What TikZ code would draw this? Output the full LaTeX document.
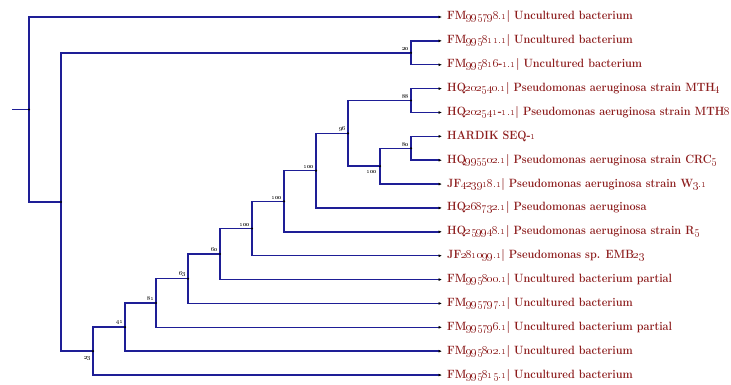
\documentclass[tikz,border=0pt]{standalone}
\usetikzlibrary{arrows.meta}
\definecolor{BranchBlue}{HTML}{1E1E96}
\definecolor{TaxonRed}{HTML}{8C1C1C}
\newcommand{\os}[1]{\oldstylenums{#1}}

\begin{document}
\begin{tikzpicture}[
  x=1pt, y=-1pt,
  % --- tree styles ---
  branch/.style={BranchBlue, line width=1.5pt},
  tip/.style={branch, -{Latex[black,length=3.5pt,width=3pt]}},
  knot/.style={circle, fill=black, inner sep=0pt, minimum size=2.4pt},
  taxon/.style={anchor=west, inner sep=0pt, text=TaxonRed, font=\fontsize{12}{14}\selectfont\bfseries},
  boot/.style={font=\fontsize{6.5}{7}\selectfont, inner sep=0.4pt},
]
\useasboundingbox (0,0) rectangle (731,385);

% =================== LEAVES ===================
\foreach \i/\lab in {
  1/{FM\os{995798.1}| Uncultured bacterium},
  2/{FM\os{995811.1}| Uncultured bacterium},
  3/{FM\os{995816}-\os{1.1}| Uncultured bacterium},
  4/{HQ\os{202540.1}| Pseudomonas aeruginosa strain MTH\os{4}},
  5/{HQ\os{202541}-\os{1.1}| Pseudomonas aeruginosa strain MTH\os{8}},
  6/{HARDIK SEQ-\os{1}},
  7/{HQ\os{995502.1}| Pseudomonas aeruginosa strain CRC\os{5}},
  8/{JF\os{423918.1}| Pseudomonas aeruginosa strain W\os{3.1}},
  9/{HQ\os{268732.1}| Pseudomonas aeruginosa},
  10/{HQ\os{259948.1}| Pseudomonas aeruginosa strain R\os{5}},
  11/{JF\os{281099.1}| Pseudomonas sp. EMB\os{23}},
  12/{FM\os{995800.1}| Uncultured bacterium partial},
  13/{FM\os{995797.1}| Uncultured bacterium},
  14/{FM\os{995796.1}| Uncultured bacterium partial},
  15/{FM\os{995802.1}| Uncultured bacterium},
  16/{FM\os{995815.1}| Uncultured bacterium}}
{
  \coordinate (t\i) at (442, {17+(\i-1)*23.87});
  \node[taxon] (l\i) at (447, {17+(\i-1)*23.87}) {\scalebox{0.905}[1]{\lab}};
}

% =================== INTERNAL NODES ===================
\coordinate (stub) at (12, 109.5);
\coordinate (nR) at (29, 109.5);
\coordinate (nA) at (61, 202);
\coordinate (nB) at (411, 52.8);
\coordinate (nC) at (93, 351.1);
\coordinate (nD) at (125, 327.1);
\coordinate (nE) at (156, 303);
\coordinate (nF) at (188, 278.7);
\coordinate (nG) at (220, 254);
\coordinate (nH) at (252, 228.5);
\coordinate (nI) at (284, 201.3);
\coordinate (nJ) at (316, 170.7);
\coordinate (nK) at (348, 133.4);
\coordinate (nL) at (411, 100.5);
\coordinate (nM) at (380, 166.2);
\coordinate (nN) at (411, 148.3);

% =================== BRANCHES ===================
\draw[branch] (stub) -- (nR);
\draw[tip] (nR) |- (t1);
\draw[branch] (nR) |- (nA);
\draw[branch] (nA) |- (nB);
\draw[tip] (nB) |- (t2);
\draw[tip] (nB) |- (t3);
\draw[branch] (nA) |- (nC);
\draw[tip] (nC) |- (t16);
\draw[branch] (nC) |- (nD);
\draw[tip] (nD) |- (t15);
\draw[branch] (nD) |- (nE);
\draw[tip] (nE) |- (t14);
\draw[branch] (nE) |- (nF);
\draw[tip] (nF) |- (t13);
\draw[branch] (nF) |- (nG);
\draw[tip] (nG) |- (t12);
\draw[branch] (nG) |- (nH);
\draw[tip] (nH) |- (t11);
\draw[branch] (nH) |- (nI);
\draw[tip] (nI) |- (t10);
\draw[branch] (nI) |- (nJ);
\draw[tip] (nJ) |- (t9);
\draw[branch] (nJ) |- (nK);
\draw[branch] (nK) |- (nL);
\draw[tip] (nL) |- (t4);
\draw[tip] (nL) |- (t5);
\draw[branch] (nK) |- (nM);
\draw[tip] (nM) |- (t8);
\draw[branch] (nM) |- (nN);
\draw[tip] (nN) |- (t6);
\draw[tip] (nN) |- (t7);

% knots
\foreach \n in {R,A,B,C,D,E,F,G,H,I,J,K,L,M,N}
  \node[knot] at (n\n) {};

% =================== BOOTSTRAP VALUES ===================
\node[boot, anchor=south east] at ([shift={(-1,-1.5)}]nB) {\os{20}};
\node[boot, anchor=north east] at ([shift={(-1,5)}]nC) {\os{23}};
\node[boot, anchor=south east] at ([shift={(-1,-1.5)}]nD) {\os{41}};
\node[boot, anchor=south east] at ([shift={(-1,-1.5)}]nE) {\os{81}};
\node[boot, anchor=south east] at ([shift={(-1,-1.5)}]nF) {\os{63}};
\node[boot, anchor=south east] at ([shift={(-1,-1.5)}]nG) {\os{60}};
\node[boot, anchor=south east] at ([shift={(-1,-1.5)}]nH) {\os{100}};
\node[boot, anchor=south east] at ([shift={(-1,-1.5)}]nI) {\os{100}};
\node[boot, anchor=south east] at ([shift={(-1,-1.5)}]nJ) {\os{100}};
\node[boot, anchor=south east] at ([shift={(-1,-1.5)}]nK) {\os{96}};
\node[boot, anchor=south east] at ([shift={(-1,-1.5)}]nL) {\os{88}};
\node[boot, anchor=north east] at ([shift={(-2,4)}]nM) {\os{100}};
\node[boot, anchor=south east] at ([shift={(-1,-1.5)}]nN) {\os{80}};

\end{tikzpicture}
\end{document}
